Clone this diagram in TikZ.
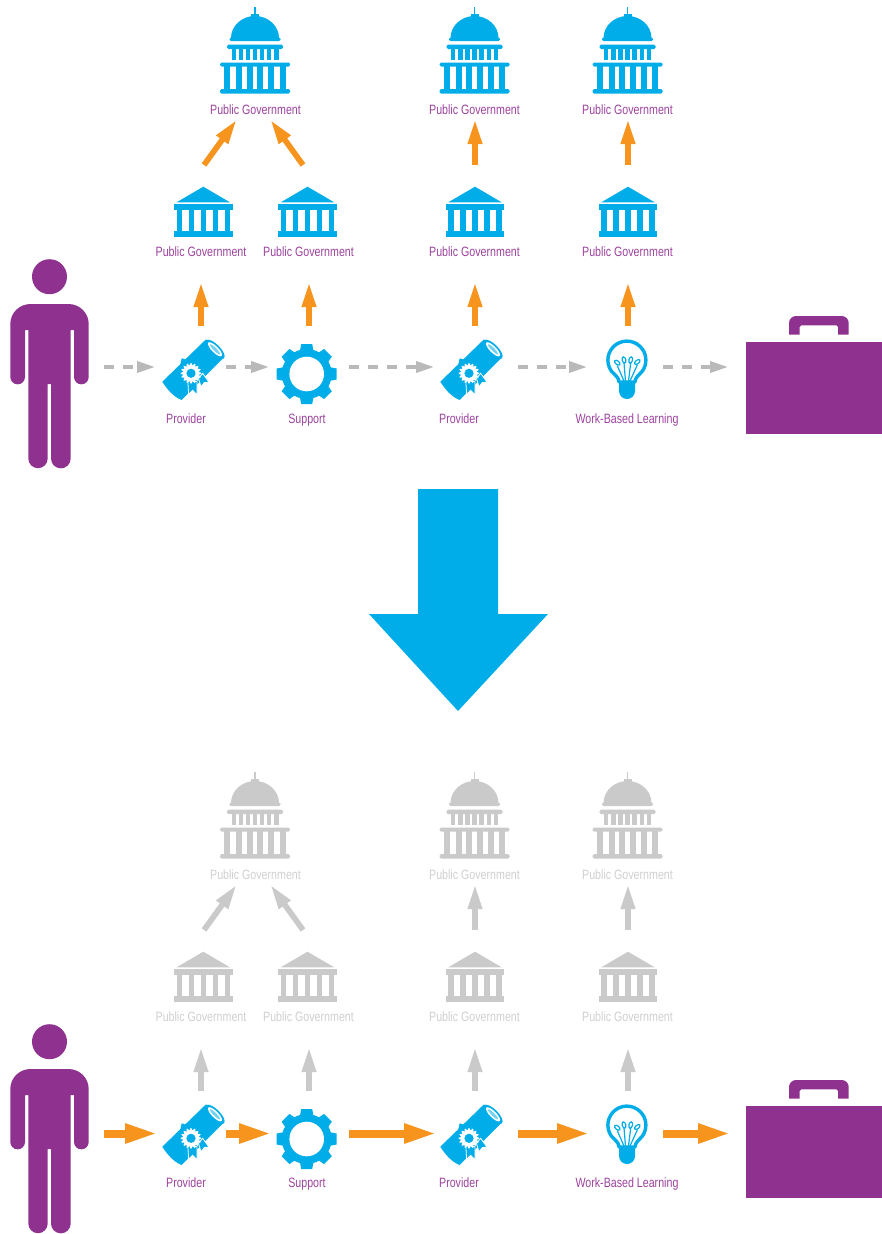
\documentclass[tikz,border=0pt]{standalone}
\usepackage{fontspec}
\usetikzlibrary{arrows.meta,calc}
\newfontfamily\labfont[FakeStretch=0.79]{Liberation Sans}
\definecolor{iconblue}{HTML}{00ADE8}
\definecolor{deeppurple}{HTML}{8E318F}
\definecolor{labelpurple}{HTML}{9C429E}
\definecolor{arroworange}{HTML}{F7941E}
\definecolor{dashgray}{HTML}{B9B9B9}
\definecolor{ghost}{HTML}{CACACA}
\definecolor{ghostlabel}{HTML}{CFCFCF}
\tikzset{
  lab/.style={font=\labfont\fontsize{13.5}{14}\selectfont,inner sep=0pt,text=labelpurple,anchor=base},
  govlab/.style={lab,text=govlabc},
  ghostbox/.style={inner sep=0pt,outer sep=0pt,minimum width=#1},
  vertbase/.style={line width=5.7pt,shorten >=-3pt,-{Triangle[length=25pt,width=13.3pt]}},
  capitol/.pic={
    \fill[govc] (-0.8,-43) rectangle (0.8,-34);
    \fill[govc] (-4,-36) rectangle (4,-32);
    \fill[govc] (-24,-12) arc[start angle=180,end angle=0,x radius=24pt,y radius=22pt] -- cycle;
    \fill[govc,rounded corners=1.3pt] (-25.5,-12.5) rectangle (25.5,-9);
    \fill[govc,rounded corners=1.5pt] (-28,-5.3) rectangle (28,-1);
    \foreach \k in {-3,...,3}{\fill[govc] ({\k*7.1-2.2},-1.5) rectangle ({\k*7.1+2.2},9.5);}
    \fill[govc,rounded corners=1.5pt] (-35,12.5) rectangle (35,16.5);
    \foreach \k in {-27.6,-16,-5.4,5.4,16,27.6}{\fill[govc] ({\k-3},16) rectangle ({\k+3},39.5);}
    \fill[govc,rounded corners=1.5pt] (-35,39) rectangle (35,43.7);
  },
  bank/.pic={
    \fill[govc] (0,-25.3) -- (26.7,-9.7) -- (-26.7,-9.7) -- cycle;
    \fill[govc] (-29.3,-8) rectangle (29.3,-2);
    \foreach \k in {-24,-12,0,12,24}{\fill[govc] ({\k-2.7},-2.5) rectangle ({\k+2.7},19);}
    \fill[govc] (-29.3,18.7) rectangle (29.3,25);
  },
  figure/.pic={
    \fill[deeppurple] (0,-90.3) circle[radius=17.5pt];
    \fill[deeppurple] (-19,-63) -- (19,-63) arc[start angle=90,end angle=0,x radius=20.2pt,y radius=20pt]
      -- (39.2,10) arc[start angle=0,end angle=-180,radius=7.35pt]
      -- (24.5,-37) -- (21.2,-37) -- (21.2,91.5) arc[start angle=0,end angle=-180,radius=9.85pt]
      -- (1.5,17) -- (-1.8,17) -- (-1.8,91.5) arc[start angle=0,end angle=-180,radius=9.7pt]
      -- (-21.2,-37) -- (-24.5,-37) -- (-24.5,10) arc[start angle=0,end angle=-180,radius=7.35pt]
      -- (-39.2,-43) arc[start angle=180,end angle=90,x radius=20.2pt,y radius=20pt] -- cycle;
  },
  briefcase/.pic={
    \fill[deeppurple] (0,-25) rectangle (136,67.3);
    \fill[deeppurple] (43,-32.3) [rounded corners=7pt] -- (43,-51) -- (102.7,-51) [sharp corners] -- (102.7,-32.3)
      -- (92,-32.3) [rounded corners=1.5pt] -- (92,-41.7) -- (53.7,-41.7) [sharp corners] -- (53.7,-32.3) -- cycle;
  },
  scroll/.pic={
    \fill[iconblue] (-28.7,8.4) -- (15,-34) -- (24,-24) -- (33,-16) -- (-9.3,26.7)
      .. controls (-17,24) and (-24,16) .. (-28.7,8.4) -- cycle;
    \fill[iconblue,rotate around={-45:(24,-24)}] (24,-24) ellipse[x radius=12.7pt,y radius=5pt];
    \fill[white,rotate around={-45:(24,-24)}] (24,-24) ellipse[x radius=9.5pt,y radius=3.2pt];
    \fill[iconblue!55,rotate around={-45:(24,-24)}] (24,-24) ellipse[x radius=7pt,y radius=1.5pt];
    \fill[iconblue] (-9.3,-15) -- (6,-10) -- (-14,6) -- cycle;
    \draw[white,line width=.8pt,fill=iconblue] (-3.2,6.7) -- (-2.4,21) -- (1.7,17) -- (6,21.5) -- (6,8.4) -- cycle;
    \draw[white,line width=.8pt,fill=iconblue] (7.5,5) -- (10,13.5) -- (13.3,9.2) -- (18,8.8) -- (11.7,0) -- cycle;
    \fill[white] plot[samples=129,domain=0:360] (\x:{9.2+1.2*cos(16*\x)}) -- cycle;
    \fill[iconblue] (0,0) circle[radius=4.6pt];
  },
  cog/.pic={
    \fill[iconblue] (0,0) circle[radius=25pt];
    \foreach \a in {0,45,...,315}{\fill[iconblue,rotate=\a] (-7,22) -- (-5.5,30) -- (5.5,30) -- (7,22) -- cycle;}
    \fill[white] (0,0) circle[radius=17.3pt];
  },
  lamp/.pic={
    \draw[iconblue,line width=3.4pt,fill=white,line join=round] (-15.7,11)
      arc[start angle=215,end angle=-35,radius=19pt]
      .. controls (11,16) and (8,18) .. (8,22) -- (-8,22) .. controls (-8,18) and (-11,16) .. (-15.7,11) -- cycle;
    \fill[iconblue] (-8,21) -- (8,21) -- (8,31) arc[start angle=0,end angle=-180,radius=8pt] -- cycle;
    \foreach \x/\y/\e/\r in {-9.7/2.7/-3/50,-3/0/-1.5/15,3.7/0/1.5/-15,10.3/2/3/-50}{
      \draw[iconblue,line width=1.2pt] (\x,\y+3) -- (\e,21);
      \draw[iconblue,line width=1.2pt,fill=white,rotate around={\r:(\x,\y)}] (\x,\y) ellipse[x radius=1.8pt,y radius=3.2pt];
    }
  }
}
\newcommand{\panel}[4]{%
  \pic at (255,50) {capitol};
  \pic at (474.5,50) {capitol};
  \pic at (627.5,50) {capitol};
  \pic at (203.3,212) {bank};
  \pic at (307.5,212) {bank};
  \pic at (475,212) {bank};
  \pic at (628,212) {bank};
  \pic at (49.5,367) {figure};
  \pic at (746,#4) {briefcase};
  \pic at (191,373.3) {scroll};
  \pic at (306.7,374) {cog};
  \pic at (469,373.3) {scroll};
  \pic at (627,360) {lamp};
  \node[govlab] (#1-gt1) at (255.5,114) {Public Government};
  \node[govlab] (#1-gt3) at (474.5,114) {Public Government};
  \node[govlab] (#1-gt4) at (627.5,114) {Public Government};
  \node[govlab] (#1-gm1) at (201,256) {Public Government};
  \node[govlab] (#1-gm2) at (308.5,256) {Public Government};
  \node[govlab] (#1-gm3) at (474.5,256) {Public Government};
  \node[govlab] (#1-gm4) at (627.5,256) {Public Government};
  \node[lab] (#1-t1) at (186,#3) {Provider};
  \node[lab] (#1-t2) at (307,#3) {Support};
  \node[lab] (#1-t3) at (459,#3) {Provider};
  \node[lab] (#1-t4) at (627,#3) {Work-Based Learning};
  % invisible boxes that carry the connector ends
  \node[ghostbox=60pt,minimum height=115pt] (#1-c1) at (255.5,64.5) {};
  \node[ghostbox=60pt,minimum height=115pt] (#1-c3) at (475,64.5) {};
  \node[ghostbox=60pt,minimum height=115pt] (#1-c4) at (628,64.5) {};
  \node[ghostbox=60pt,minimum height=120pt] (#1-b1) at (201,225) {};
  \node[ghostbox=60pt,minimum height=120pt] (#1-b2) at (309,225) {};
  \node[ghostbox=60pt,minimum height=120pt] (#1-b3) at (475,225) {};
  \node[ghostbox=60pt,minimum height=120pt] (#1-b4) at (628,225) {};
  \node[ghostbox=94pt,minimum height=214pt] (#1-man) at (57,367) {};
  \node[ghostbox=71pt,minimum height=82pt] (#1-p1) at (190.5,367) {};
  \node[ghostbox=80pt,minimum height=82pt] (#1-s) at (309,367) {};
  \node[ghostbox=84pt,minimum height=82pt] (#1-p2) at (476,367) {};
  \node[ghostbox=76pt,minimum height=82pt] (#1-w) at (625,367) {};
  \node[ghostbox=154pt,minimum height=150pt] (#1-job) at (805,367) {};
  \draw[vert] ([xshift=3pt]#1-b1.north) -- ([xshift=-20.5pt]#1-c1.south);
  \draw[vert] ([xshift=-6pt]#1-b2.north) -- ([xshift=16.5pt]#1-c1.south);
  \draw[vert] (#1-b3.north) -- (#1-c3.south);
  \draw[vert] (#1-b4.north) -- (#1-c4.south);
  \draw[vert] (#1-b1 |- #1-p1.north) -- (#1-b1.south);
  \draw[vert] (#1-b2 |- #1-s.north) -- (#1-b2.south);
  \draw[vert] (#1-b3 |- #1-p2.north) -- (#1-b3.south);
  \draw[vert] (#1-b4 |- #1-w.north) -- (#1-b4.south);
  \draw[horiz] ([yshift=#2]#1-man.east) -- ([yshift=#2]#1-p1.west);
  \draw[horiz] ([yshift=#2]#1-p1.east) -- ([yshift=#2]#1-s.west);
  \draw[horiz] ([yshift=#2]#1-s.east) -- ([yshift=#2]#1-p2.west);
  \draw[horiz] ([yshift=#2]#1-p2.east) -- ([yshift=#2]#1-w.west);
  \draw[horiz] ([yshift=#2]#1-w.east) -- ([yshift=#2]#1-job.west);
}
\begin{document}
\begin{tikzpicture}[x=1pt,y=-1pt]
  \useasboundingbox (0,0) rectangle (882,1234);
  \begin{scope}[
      vert/.style={vertbase,draw=arroworange,color=arroworange},
      horiz/.style={draw=dashgray,color=dashgray,line width=4.5pt,dash pattern=on 10pt off 9pt,shorten >=-1pt,-{Triangle[length=19pt,width=10.5pt]}}]
    \colorlet{govc}{iconblue}
    \colorlet{govlabc}{labelpurple}
    \panel{top}{0pt}{423}{367}
  \end{scope}
  \fill[iconblue] (418,489) -- (498,489) -- (498,614) -- (548,614) -- (458,711) -- (369,614) -- (418,614) -- cycle;
  \begin{scope}[shift={(0,765)},
      vert/.style={vertbase,draw=ghost,color=ghost},
      horiz/.style={draw=arroworange,color=arroworange,line width=8pt,shorten >=-3pt,-{Triangle[length=33pt,width=18pt]}}]
    \colorlet{govc}{ghost}
    \colorlet{govlabc}{ghostlabel}
    \panel{bot}{-1.5pt}{422}{366}
  \end{scope}
\end{tikzpicture}
\end{document}
